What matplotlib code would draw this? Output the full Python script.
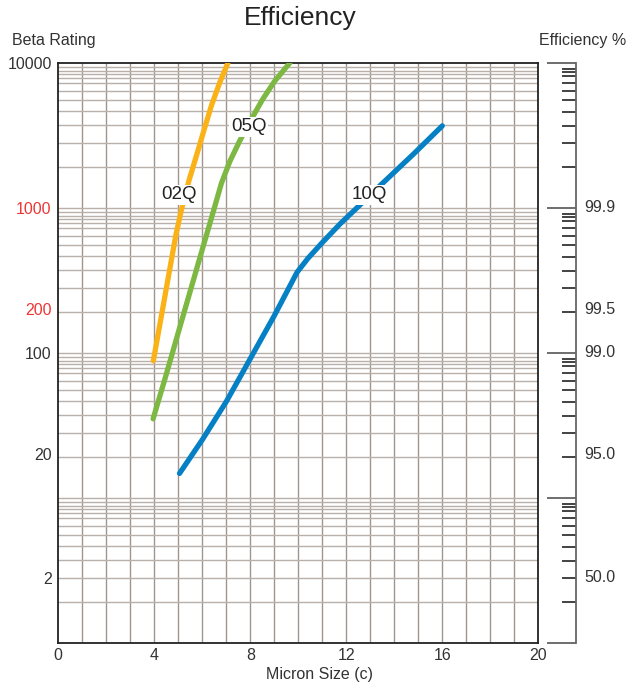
import numpy as np
import matplotlib
matplotlib.use("Agg")
import matplotlib.pyplot as plt
from matplotlib.ticker import FixedLocator, NullFormatter

plt.rcParams["font.family"] = ["Liberation Sans", "DejaVu Sans"]

# ---- data: beta rating versus particle size for each filter grade ----
x_02q = [3.96, 4.5, 4.9, 5.15, 5.45, 5.83, 6.08, 6.39, 6.74, 7.07]
beta_02q = [88, 277, 650, 1000, 1550, 2510, 3470, 5120, 7390, 10000]

x_05q = [3.95, 4.5, 5.0, 5.5, 6.0, 6.4, 6.8, 7.15, 7.55, 8.0, 8.5, 9.0, 9.65]
beta_05q = [35, 71, 138, 267, 516, 870, 1480, 2090, 2870, 3960, 5540, 7400, 10000]

x_10q = [5.05, 6.0, 7.0, 8.0, 9.0, 9.95, 10.4, 11.0, 11.75, 12.45, 13.2, 14.0, 14.8, 16.0]
beta_10q = [14.7, 25.1, 46, 91, 180, 359, 447, 575, 776, 1000, 1318, 1758, 2344, 3670]

series_names = ["02Q", "05Q", "10Q"]

beta_ticks = [10000, 1000, 200, 100, 20, 2]
beta_tick_labels = ["10000", "1000", "200", "100", "20", "2"]
efficiency_ticks = [1000, 200, 100, 20, 2]
efficiency_labels = ["99.9", "99.5", "99.0", "95.0", "50.0"]
x_ticks = [0, 4, 8, 12, 16, 20]

# ---- styling ----
COLORS = {"02Q": "#FBB217", "05Q": "#7CB842", "10Q": "#0580C4"}
TEXT = "#333333"
RED = "#EE3535"
label_pos = {"02Q": (5.04, 1230), "05Q": (7.93, 3630), "10Q": (12.95, 1233)}

# position of the sub-decade rulings, as fraction down from the top of each decade
GRID_FRACS = [0.03, 0.055, 0.08, 0.107, 0.14, 0.192, 0.257, 0.335, 0.432, 0.552, 0.72]
SCALE_TICK_FRACS = [0.042, 0.064, 0.092, 0.137, 0.195, 0.258, 0.338, 0.434, 0.552, 0.721]

# log scale above 10, compressed bottom decade
P = np.log(0.448) / np.log(np.log10(2.0))


def fwd(b):
    b = np.clip(np.asarray(b, dtype=float), 1.0, None)
    L = np.log10(b)
    return np.where(L >= 1, L, np.power(np.clip(L, 0, 1), P))


def inv(u):
    u = np.asarray(u, dtype=float)
    hi = np.power(10.0, np.clip(u, -1, 6))
    lo = np.power(10.0, np.power(np.clip(u, 0, 1), 1.0 / P))
    return np.where(u >= 1, hi, lo)


def decade_positions(fracs):
    vals = []
    for d in range(4):
        for f in fracs:
            vals.append(float(inv(d + 1 - f)))
    return vals


W, H = 631, 688
fig = plt.figure(figsize=(W / 100, H / 100), dpi=100)
left, right, top, bottom = 58.3, 538.3, 62.7, 642.7
ax = fig.add_axes([left / W, (H - bottom) / H, (right - left) / W, (bottom - top) / H])
ax.set_yscale("function", functions=(fwd, inv))
ax.set_ylim(1, 10000)
ax.set_xlim(0, 20)

# grid
for xv in range(1, 20):
    ax.axvline(xv, color="#A0968F", lw=1.0, zorder=1)
for yv in decade_positions(GRID_FRACS) + [10, 100, 1000]:
    ax.axhline(yv, color="#B9B0AA", lw=1.0, zorder=1)

# curves
for name, xs, ys in [("02Q", x_02q, beta_02q), ("05Q", x_05q, beta_05q), ("10Q", x_10q, beta_10q)]:
    ax.plot(xs, ys, color=COLORS[name], lw=3.8, solid_capstyle="round",
            solid_joinstyle="round", zorder=3)
    lx, ly = label_pos[name]
    ax.text(lx, ly, name, fontsize=13.5, color="#222222", ha="center", va="center", zorder=4,
            bbox=dict(boxstyle="square,pad=0.08", fc="white", ec="none"))

# axes frame & ticks
for s in ax.spines.values():
    s.set_color("#222222")
    s.set_linewidth(1.3)
ax.yaxis.set_major_locator(FixedLocator(beta_ticks))
ax.set_yticklabels(beta_tick_labels)
ax.yaxis.set_minor_locator(FixedLocator([]))
ax.yaxis.set_minor_formatter(NullFormatter())
ax.set_xticks(x_ticks)
ax.set_xticklabels([str(v) for v in x_ticks])
ax.tick_params(axis="both", length=0, labelsize=11.5, labelcolor=TEXT)
ax.tick_params(axis="y", pad=4.8)
ax.tick_params(axis="x", pad=4)
for lbl, txt in zip(ax.get_yticklabels(), beta_tick_labels):
    lbl.set_color(RED if txt in ("1000", "200") else TEXT)

# efficiency scale on the right
sx0, sx1 = 546.7, 576.0
ax2 = fig.add_axes([sx0 / W, (H - bottom) / H, (sx1 - sx0) / W, (bottom - top) / H])
ax2.set_yscale("function", functions=(fwd, inv))
ax2.set_ylim(1, 10000)
ax2.set_xlim(0, 1)
ax2.patch.set_alpha(0)
for k in ("left", "top", "bottom"):
    ax2.spines[k].set_visible(False)
ax2.spines["right"].set_color("#666666")
ax2.spines["right"].set_linewidth(1.3)
ax2.set_xticks([])
ax2.yaxis.tick_right()
ax2.yaxis.set_major_locator(FixedLocator([1, 10, 100, 1000, 10000]))
ax2.yaxis.set_major_formatter(NullFormatter())
ax2.yaxis.set_minor_locator(FixedLocator(decade_positions(SCALE_TICK_FRACS)))
ax2.yaxis.set_minor_formatter(NullFormatter())
ax2.tick_params(axis="y", which="major", direction="in", length=21, width=1.2, color="#555555")
ax2.tick_params(axis="y", which="minor", direction="in", length=10.3, width=1.2, color="#222222")
for yv, txt in zip(efficiency_ticks, efficiency_labels):
    ax2.annotate(txt, xy=(1, yv), xycoords=("axes fraction", "data"), xytext=(6, 0),
                 textcoords="offset points", ha="left", va="center", fontsize=11.5, color=TEXT)

# titles
fig.text(300 / W, 1 - 18 / H, "Efficiency", ha="center", va="center", fontsize=19, color="#222222")
fig.text(12 / W, 1 - 41 / H, "Beta Rating", ha="left", va="center", fontsize=11.5, color=TEXT)
fig.text(626 / W, 1 - 41 / H, "Efficiency %", ha="right", va="center", fontsize=11.5, color=TEXT)
fig.text(320 / W, 1 - 675 / H, "Micron Size (c)", ha="center", va="center", fontsize=11.5, color=TEXT)

fig.savefig("out.png", dpi=100, facecolor="white")
